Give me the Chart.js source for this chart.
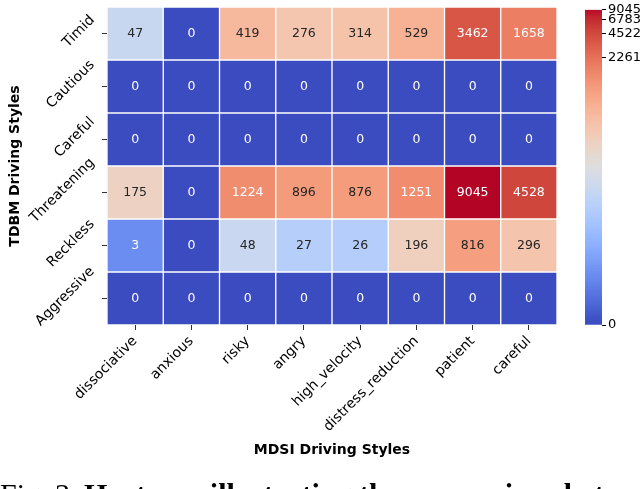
<!DOCTYPE html>
<html>
<head>
<meta charset="utf-8">
<script src="https://cdn.jsdelivr.net/npm/chart.js@4.4.0/dist/chart.umd.min.js"></script>
<style>
    body { margin: 0; width: 640px; height: 489px; overflow: hidden; background: #fff; position: relative; }
    #heat { position: absolute; left: 0; top: 0; }
    #cbar { position: absolute; left: 560px; top: 0; }
    .cap { position: absolute; top: 479px; font-family: 'Liberation Serif', serif; font-size: 30px; line-height: 1; white-space: nowrap; color: #000; }
</style>
</head>
<body>
<canvas id="heat" width="640" height="489"></canvas>
<canvas id="cbar" width="80" height="489"></canvas>
<div class="cap" style="left:0">Fig. 3:</div>
<div class="cap" style="left:84px"><b>Heatmap illustrating the comparison between</b></div>
<script>
// columns / rows of the heatmap
const mdsiStyles = ['dissociative', 'anxious', 'risky', 'angry', 'high_velocity', 'distress_reduction', 'patient', 'careful'];
const tdbmStyles = ['Timid', 'Cautious', 'Careful', 'Threatening', 'Reckless', 'Aggressive'];

// counts, one array per TDBM row
const timid       = [47, 0, 419, 276, 314, 529, 3462, 1658];
const cautious    = [0, 0, 0, 0, 0, 0, 0, 0];
const careful     = [0, 0, 0, 0, 0, 0, 0, 0];
const threatening = [175, 0, 1224, 896, 876, 1251, 9045, 4528];
const reckless    = [3, 0, 48, 27, 26, 196, 816, 296];
const aggressive  = [0, 0, 0, 0, 0, 0, 0, 0];

const colorbarTicks = [0, 2261, 4522, 6783, 9045];

const rows = [timid, cautious, careful, threatening, reckless, aggressive];
const vmax = 9045;

// coolwarm table (Moreland)
const coolwarm = [
    [59,76,192],[68,90,204],[77,104,215],[87,117,225],[98,130,234],[108,142,241],[119,154,247],[130,165,251],
    [141,176,254],[152,185,255],[163,194,255],[174,201,253],[184,208,249],[194,213,244],[204,217,238],[213,219,230],
    [221,221,221],[229,216,209],[236,211,197],[241,204,185],[245,196,173],[247,187,160],[247,177,148],[247,166,135],
    [244,154,123],[241,141,111],[236,127,99],[229,112,88],[222,96,77],[213,80,66],[203,62,56],[192,40,47],[180,4,38]
];

function norm(v) {
    return Math.log1p(v) / Math.log1p(vmax);
}

function cmap(t) {
    t = Math.max(0, Math.min(1, t));
    const p = t * (coolwarm.length - 1);
    const i = Math.min(Math.floor(p), coolwarm.length - 2);
    const f = p - i;
    const a = coolwarm[i], b = coolwarm[i + 1];
    return [0, 1, 2].map(k => Math.round(a[k] + (b[k] - a[k]) * f));
}

function rgbStr(c) {
    return `rgb(${c[0]},${c[1]},${c[2]})`;
}

// seaborn picks white or dark annotation text by luminance
function textColor(c) {
    const lin = c.map(v => {
        v = v / 255;
        return v <= 0.03928 ? v / 12.92 : Math.pow((v + 0.055) / 1.055, 2.4);
    });
    const lum = 0.2126 * lin[0] + 0.7152 * lin[1] + 0.0722 * lin[2];
    return lum > 0.408 ? '#262626' : '#ffffff';
}

const annotate = {
    id: 'annotate',
    afterDatasetsDraw(chart) {
        const ctx = chart.ctx;
        ctx.save();
        ctx.font = '12.5px "DejaVu Sans"';
        ctx.textAlign = 'center';
        ctx.textBaseline = 'middle';
        chart.data.datasets.forEach((ds, r) => {
            chart.getDatasetMeta(r).data.forEach((bar, c) => {
                const v = rows[r][c];
                ctx.fillStyle = textColor(cmap(norm(v)));
                ctx.fillText(String(v), bar.x, (bar.y + bar.base) / 2);
            });
        });
        ctx.restore();
    }
};

// rotated row labels, centred on the tick like matplotlib does
const rowLabels = {
    id: 'rowLabels',
    afterDraw(chart) {
        const ctx = chart.ctx;
        const ys = chart.scales.y;
        const right = chart.chartArea.left - 9;
        ctx.save();
        ctx.font = '14px "DejaVu Sans"';
        ctx.fillStyle = '#000';
        ctx.textAlign = 'center';
        ctx.textBaseline = 'middle';
        tdbmStyles.forEach((name, i) => {
            const w = ctx.measureText(name).width;
            const bw = (w + 16) * Math.SQRT1_2;
            const cx = right - bw / 2;
            const cy = ys.getPixelForValue(i + 0.5) - 2;
            ctx.save();
            ctx.translate(cx, cy);
            ctx.rotate(-Math.PI / 4);
            ctx.fillText(name, 0, 0);
            ctx.restore();
        });
        ctx.restore();
    }
};

new Chart(document.getElementById('heat'), {
    type: 'bar',
    data: {
        labels: mdsiStyles,
        datasets: rows.map((vals, r) => ({
            label: tdbmStyles[r],
            data: vals.map(() => [r, r + 1]),
            backgroundColor: vals.map(v => rgbStr(cmap(norm(v)))),
            borderColor: '#ffffff',
            borderWidth: 1,
            borderSkipped: false,
            barPercentage: 1,
            categoryPercentage: 1
        }))
    },
    options: {
        responsive: false,
        animation: false,
        layout: { padding: { left: 0, top: 7, right: 83, bottom: 30 } },
        plugins: { legend: { display: false }, tooltip: { enabled: false } },
        scales: {
            x: {
                stacked: true,
                border: { display: false },
                grid: { drawOnChartArea: false, offset: false, tickLength: 5, color: '#333' },
                ticks: {
                    minRotation: 45, maxRotation: 45, padding: 3,
                    color: '#000', font: { family: 'DejaVu Sans', size: 14 }
                },
                title: {
                    display: true, text: 'MDSI Driving Styles', color: '#000',
                    font: { family: 'DejaVu Sans', size: 14, weight: 'bold' }, padding: 0
                },
                afterFit(s) { s.height = 134; }
            },
            y: {
                type: 'linear',
                min: 0, max: 6, reverse: true,
                border: { display: false },
                grid: { drawOnChartArea: false, tickLength: 5, color: '#333' },
                afterBuildTicks(s) { s.ticks = tdbmStyles.map((n, i) => ({ value: i + 0.5 })); },
                ticks: { display: false },
                title: {
                    display: true, text: 'TDBM Driving Styles', color: '#000',
                    font: { family: 'DejaVu Sans', size: 14, weight: 'bold' }, padding: { top: 7 }
                },
                afterFit(s) { s.width = 107; }
            }
        }
    },
    plugins: [annotate, rowLabels]
});

// colorbar: thin stacked slices along a log1p axis
const cbMax = Math.log1p(vmax);
const nSlices = 120;
const slices = [];
for (let i = 0; i < nSlices; i++) {
    const lo = cbMax * i / nSlices;
    const hi = cbMax * (i + 1.6) / nSlices;
    slices.push({
        data: [[lo, Math.min(hi, cbMax)]],
        backgroundColor: rgbStr(cmap((i + 0.5) / nSlices)),
        borderWidth: 0,
        barPercentage: 1,
        categoryPercentage: 1
    });
}

new Chart(document.getElementById('cbar'), {
    type: 'bar',
    data: { labels: [''], datasets: slices },
    options: {
        responsive: false,
        animation: false,
        layout: { padding: { left: 25, top: 7, right: 0, bottom: 164 } },
        plugins: { legend: { display: false }, tooltip: { enabled: false } },
        scales: {
            x: { display: false, stacked: true },
            y: {
                position: 'right',
                min: 0, max: cbMax,
                border: { display: false },
                grid: { drawOnChartArea: false, tickLength: 4, color: '#000' },
                afterBuildTicks(s) { s.ticks = colorbarTicks.map(v => ({ value: Math.log1p(v) })); },
                ticks: {
                    autoSkip: false, padding: 2, color: '#000',
                    font: { family: 'DejaVu Sans', size: 13 },
                    callback: (val, i) => colorbarTicks[i]
                },
                afterFit(s) { s.width = 38; }
            }
        }
    }
});
</script>
</body>
</html>
